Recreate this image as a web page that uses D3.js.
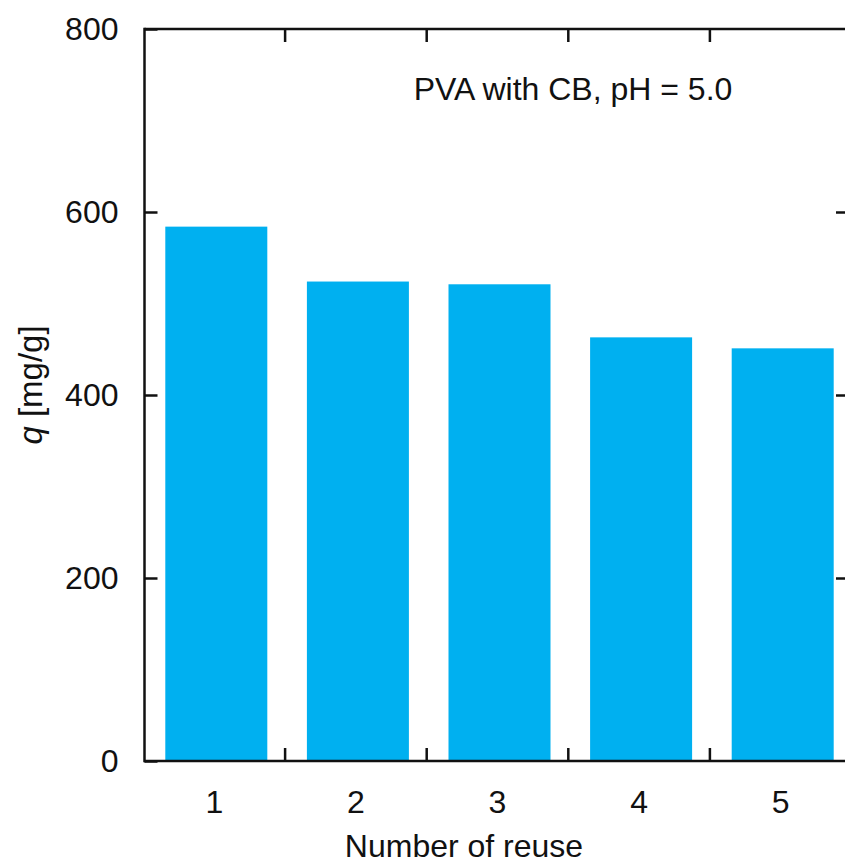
<!DOCTYPE html>
<html>
<head>
<meta charset="utf-8">
<script src="https://cdn.jsdelivr.net/npm/d3@7/dist/d3.min.js"></script>
<style>
body{margin:0;background:#fff;}
text{font-family:"Liberation Sans",Arial,Helvetica,sans-serif;fill:#111;}
</style>
</head>
<body>
<div id="chart"></div>
<script>
// reuse cycles and adsorbed amount q (mg/g)
var cycles=[1,2,3,4,5];
var qvals=[584,524,521,463,451];
var yticks=[0,200,400,600,800];
var sepTicks=[1.5,2.5,3.5,4.5];
var title="PVA with CB, pH = 5.0";

var W=845,H=864;
var pLeft=144.5,pRight=849,pTop=29,pBottom=761,tk=13,barW=102;

var x=d3.scaleLinear().domain([0.5,5.5]).range([143,851]);
var y=d3.scaleLinear().domain([0,800]).range([pBottom,pTop]);

var svg=d3.select("#chart").append("svg")
  .attr("width",W).attr("height",H);

// bars
svg.selectAll("rect.bar")
  .data(qvals).enter()
  .append("rect")
  .attr("class","bar")
  .attr("x",function(d,i){return x(cycles[i])+2.5-barW/2;})
  .attr("y",function(d){return y(d);})
  .attr("width",barW)
  .attr("height",function(d){return pBottom-y(d);})
  .attr("fill","#00b0f0");

// left axis with inward ticks
var gl=svg.append("g").attr("transform","translate("+pLeft+",0)")
  .call(d3.axisLeft(y).tickValues(yticks).tickSize(-tk).tickPadding(26).tickSizeOuter(0));
// right side ticks
var gr=svg.append("g").attr("transform","translate("+pRight+",0)")
  .call(d3.axisRight(y).tickValues(yticks.slice(1,4)).tickSize(-tk).tickSizeOuter(0).tickFormat(""));
// bottom separators
var gb=svg.append("g").attr("transform","translate(0,"+pBottom+")")
  .call(d3.axisBottom(x).tickValues(sepTicks).tickSize(-tk).tickSizeOuter(0).tickFormat(""));
// top separators
var gt=svg.append("g").attr("transform","translate(0,"+pTop+")")
  .call(d3.axisTop(x).tickValues(sepTicks).tickSize(-tk).tickSizeOuter(0).tickFormat(""));
// category labels
var gc=svg.append("g").attr("transform","translate(0,"+pBottom+")")
  .call(d3.axisBottom(x).tickValues(cycles).tickSize(0).tickPadding(29).tickFormat(d3.format("d")));
gc.select(".domain").remove();

[gl,gr,gb,gt].forEach(function(g){
  g.selectAll("line").attr("stroke","#111").attr("stroke-width",2.5);
  g.select(".domain").remove();
});
[gl,gc].forEach(function(g){
  g.attr("font-size",32).attr("font-family",null);
  g.selectAll("text").attr("fill","#111");
});

// frame lines: left, bottom, top
svg.append("line").attr("x1",pLeft).attr("x2",pLeft).attr("y1",pTop-1.25).attr("y2",pBottom+1.25)
  .attr("stroke","#111").attr("stroke-width",2.5);
svg.append("line").attr("x1",pLeft).attr("x2",W).attr("y1",pBottom).attr("y2",pBottom)
  .attr("stroke","#111").attr("stroke-width",2.5);
svg.append("line").attr("x1",pLeft).attr("x2",W).attr("y1",pTop).attr("y2",pTop)
  .attr("stroke","#111").attr("stroke-width",2.5);

// annotation
svg.append("text").attr("x",573).attr("y",100).attr("text-anchor","middle")
  .attr("font-size",32).text(title);

// axis titles
svg.append("text").attr("x",464).attr("y",857).attr("text-anchor","middle")
  .attr("font-size",32).text("Number of reuse");
var yl=svg.append("text").attr("transform","translate(42,385) rotate(-90)")
  .attr("text-anchor","middle").attr("font-size",33);
yl.append("tspan").attr("font-style","italic").text("q");
yl.append("tspan").text(" [mg/g]");
</script>
</body>
</html>
